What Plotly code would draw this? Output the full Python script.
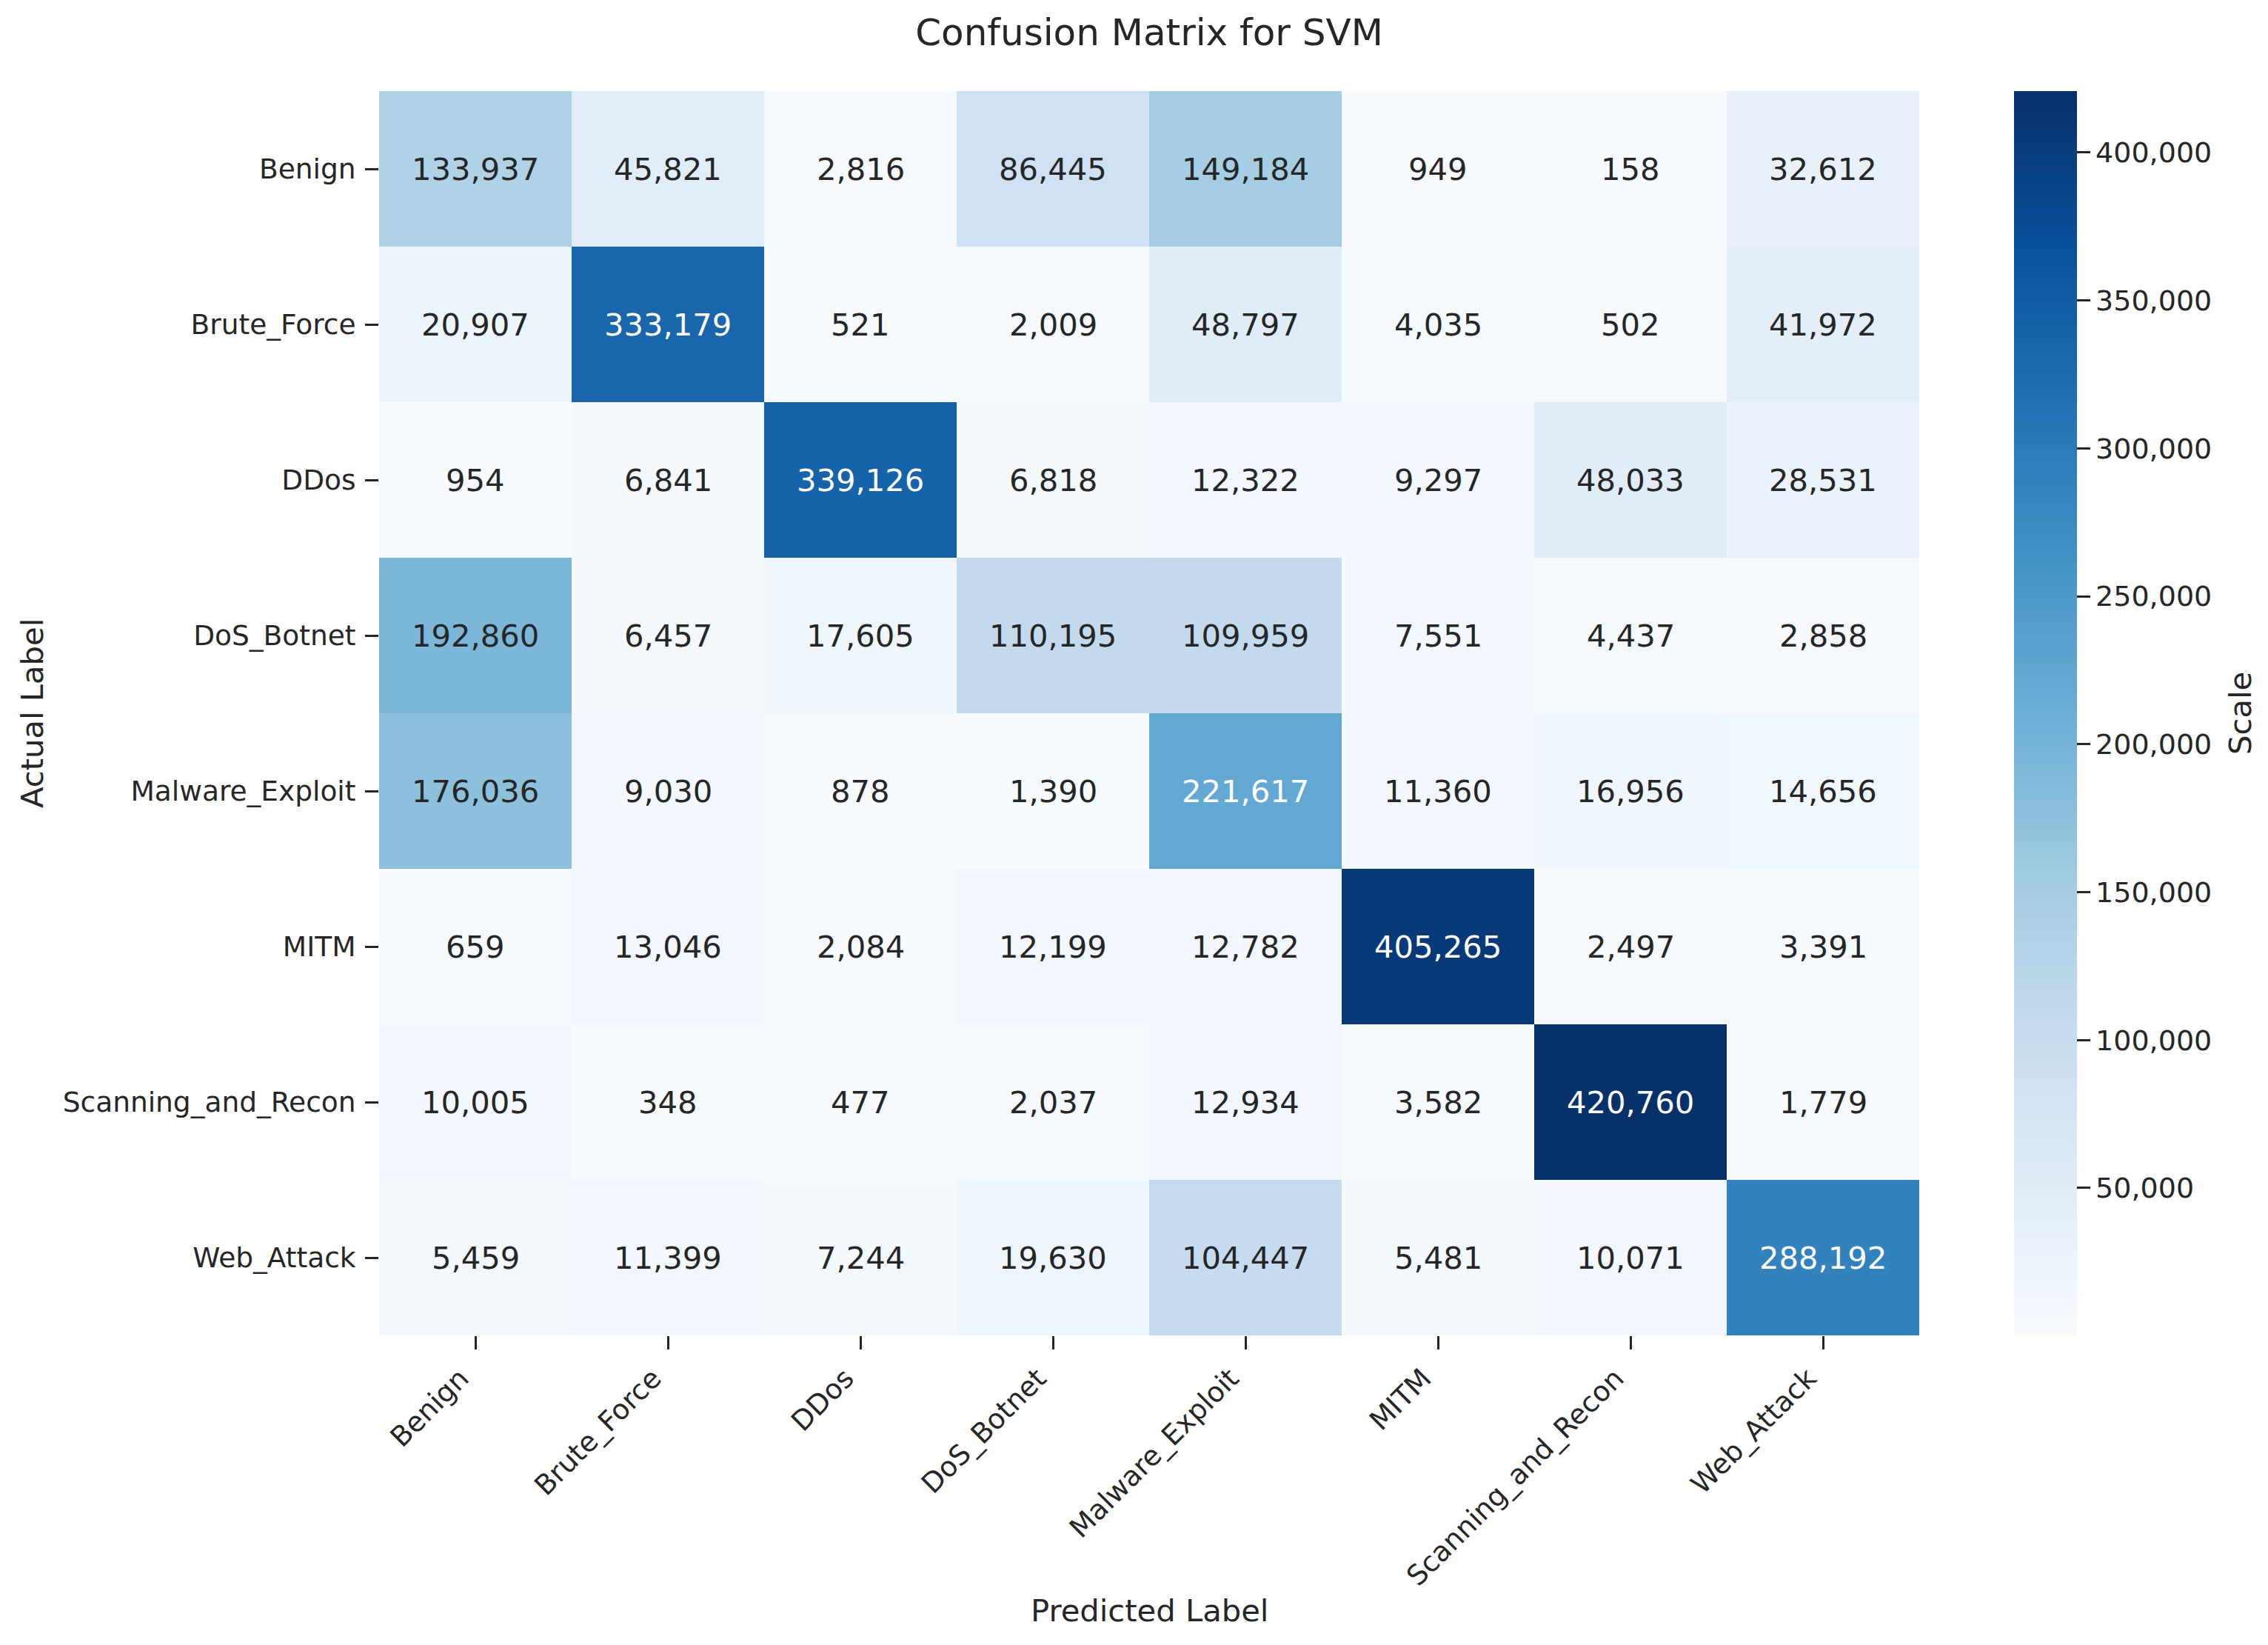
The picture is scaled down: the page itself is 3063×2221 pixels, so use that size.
import plotly.graph_objects as go
import plotly.colors as pc

labels = ["Benign", "Brute_Force", "DDos", "DoS_Botnet", "Malware_Exploit",
          "MITM", "Scanning_and_Recon", "Web_Attack"]

values = [
    [133937, 45821, 2816, 86445, 149184, 949, 158, 32612],
    [20907, 333179, 521, 2009, 48797, 4035, 502, 41972],
    [954, 6841, 339126, 6818, 12322, 9297, 48033, 28531],
    [192860, 6457, 17605, 110195, 109959, 7551, 4437, 2858],
    [176036, 9030, 878, 1390, 221617, 11360, 16956, 14656],
    [659, 13046, 2084, 12199, 12782, 405265, 2497, 3391],
    [10005, 348, 477, 2037, 12934, 3582, 420760, 1779],
    [5459, 11399, 7244, 19630, 104447, 5481, 10071, 288192],
]

cbar_ticks = [50000, 100000, 150000, 200000, 250000, 300000, 350000, 400000]

title_text = "Confusion Matrix for SVM"
x_title = "Predicted Label"
y_title = "Actual Label"
cbar_title = "Scale"

FONT = "DejaVu Sans"
DARK = "#262626"
colorscale = pc.sequential.Blues

OFF = 8  # default page body margin
W, H = 3063, 2221
ML, MT = 512 - OFF, 123 - OFF
PW, PH = 2080, 1680
MR, MB = W - ML - PW, H - MT - PH

flat = [v for row in values for v in row]
vmin, vmax = min(flat), max(flat)


def lum_of(v):
    t = (v - vmin) / (vmax - vmin)
    c = pc.sample_colorscale(colorscale, [t])[0]
    rgb = [float(s) / 255 for s in c[c.index("(") + 1:c.index(")")].split(",")]
    lin = [x / 12.92 if x <= 0.03928 else ((x + 0.055) / 1.055) ** 2.4 for x in rgb]
    return 0.2126 * lin[0] + 0.7152 * lin[1] + 0.0722 * lin[2]


fig = go.Figure()
fig.add_trace(go.Heatmap(
    z=values, x=labels, y=labels,
    zmin=vmin, zmax=vmax,
    colorscale=colorscale,
    colorbar=dict(
        x=(2720 - 512) / PW, xanchor="left", xref="paper",
        y=0.5, yanchor="middle", len=1.0, lenmode="fraction",
        thickness=85, thicknessmode="pixels",
        xpad=0, ypad=0, outlinewidth=0,
        tickvals=cbar_ticks, tickformat=",",
        ticks="outside", ticklen=18, tickwidth=2.5, tickcolor=DARK,
        tickfont=dict(family=FONT, size=38, color=DARK),
    ),
    hoverongaps=False,
))

annotations = []
for i, row_lab in enumerate(labels):
    for j, col_lab in enumerate(labels):
        v = values[i][j]
        col = DARK if lum_of(v) > 0.408 else "white"
        annotations.append(dict(
            x=col_lab, y=row_lab, xref="x", yref="y",
            text=f"{v:,}", showarrow=False,
            font=dict(family=FONT, size=41.7, color=col),
        ))

annotations.append(dict(
    x=0.5, y=-(2174 - 1803) / PH, xref="paper", yref="paper",
    text=x_title, showarrow=False, xanchor="center", yanchor="middle",
    font=dict(family=FONT, size=41.7, color=DARK),
))
annotations.append(dict(
    x=(43 - 512) / PW, y=0.5, xref="paper", yref="paper",
    text=y_title, showarrow=False, textangle=-90,
    xanchor="center", yanchor="middle",
    font=dict(family=FONT, size=41.7, color=DARK),
))
annotations.append(dict(
    x=(3025 - 512) / PW, y=0.5, xref="paper", yref="paper",
    text=cbar_title, showarrow=False, textangle=-90,
    xanchor="center", yanchor="middle",
    font=dict(family=FONT, size=41.7, color=DARK),
))

fig.update_layout(
    width=W, height=H,
    margin=dict(l=ML, r=MR, t=MT, b=MB, autoexpand=False),
    paper_bgcolor="white", plot_bgcolor="white",
    font=dict(family=FONT, color=DARK),
    title=dict(text=title_text, x=0.5, xref="paper", xanchor="center",
               y=1 - (43 - OFF) / H, yref="container", yanchor="middle",
               font=dict(family=FONT, size=50, color=DARK)),
    annotations=annotations,
    showlegend=False,
)
fig.update_xaxes(
    tickangle=-45, ticks="outside", ticklen=18, tickwidth=2.5, tickcolor=DARK,
    tickfont=dict(family=FONT, size=37.5, color=DARK),
    showgrid=False, zeroline=False, showline=False,
    ticklabelstandoff=2, ticklabelshift=-20,
)
fig.update_yaxes(
    autorange="reversed", ticks="outside", ticklen=18, tickwidth=2.5, tickcolor=DARK,
    tickfont=dict(family=FONT, size=37.5, color=DARK),
    showgrid=False, zeroline=False, showline=False, ticklabelstandoff=5,
)

fig.write_html("out.html")
